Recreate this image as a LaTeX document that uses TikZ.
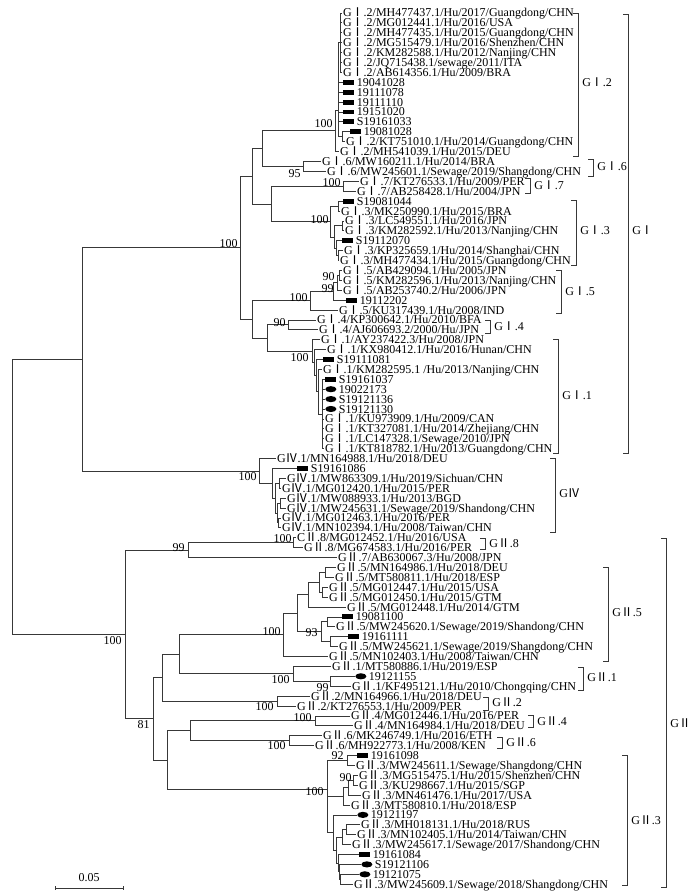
\documentclass[tikz,border=0pt]{standalone}
\usepackage{fontspec}
\setmainfont{Liberation Serif}
\newfontfamily\cjk{Noto Sans CJK SC}
\usetikzlibrary{shapes.geometric}
\newcommand\rnI{{\cjk Ⅰ}}
\newcommand\rnII{{\cjk Ⅱ}}
\newcommand\rnIV{{\cjk Ⅳ}}
\tikzset{
 tree/.style={draw=black!78, line width=0.6pt},
 lab/.style={anchor=west, inner xsep=0.6pt, inner ysep=0pt, text height=6pt, text depth=0pt, font=\fontsize{9}{9}\selectfont},
 bs/.style={anchor=east, inner sep=0pt, text height=6pt, text depth=0pt, font=\fontsize{9}{9}\selectfont},
 clab/.style={anchor=west, inner sep=0pt, text height=6pt, text depth=0pt, font=\fontsize{9}{9}\selectfont},
 rmark/.style={rectangle, fill=black, minimum width=8.4pt, minimum height=3.7pt, inner sep=0pt, anchor=west},
 emark/.style={ellipse, fill=black, minimum width=8.4pt, minimum height=4.6pt, inner sep=0pt, anchor=west},
}
\newcommand\leafT[4]{\coordinate (#1) at (#2,#3); \node[lab] (#1t) at (#1) {#4};}
\newcommand\leafR[4]{\coordinate (#1) at (#2,#3); \node[rmark] (#1m) at (#1) {}; \node[lab] (#1t) at ([xshift=0.8pt]#1m.east) {#4};}
\newcommand\leafE[4]{\coordinate (#1) at (#2,#3); \node[emark] (#1m) at (#1) {}; \node[lab] (#1t) at ([xshift=0.8pt]#1m.east) {#4};}
\newcommand\inode[3]{\coordinate (#1) at (#2,#3);}
\newcommand\kids[2]{\foreach \c in {#2} {\draw[tree] (#1) |- (\c);}}
\newcommand\clade[6]{%
 \coordinate (#1a) at (#2-5,#3); \coordinate (#1c) at (#2,#3);
 \coordinate (#1d) at (#2,#4); \coordinate (#1b) at (#2-5,#4);
 \draw[tree] (#1a) -- (#1c) -- (#1d) -- (#1b);
 \node[clab] (#1l) at (#2+4,#5) {#6};}
\begin{document}
\begin{tikzpicture}[x=0.75pt,y=-0.75pt]
\useasboundingbox (0,0) rectangle (695,895);
% leaves
\leafT{L1}{342}{13.0}{G\rnI.2/MH477437.1/Hu/2017/Guangdong/CHN}
\leafT{L2}{342}{22.9}{G\rnI.2/MG012441.1/Hu/2016/USA}
\leafT{L3}{342}{32.8}{G\rnI.2/MH477435.1/Hu/2015/Guangdong/CHN}
\leafT{L4}{342}{42.7}{G\rnI.2/MG515479.1/Hu/2016/Shenzhen/CHN}
\leafT{L5}{342}{52.6}{G\rnI.2/KM282588.1/Hu/2012/Nanjing/CHN}
\leafT{L6}{342}{62.5}{G\rnI.2/JQ715438.1/sewage/2011/ITA}
\leafT{L7}{342}{72.4}{G\rnI.2/AB614356.1/Hu/2009/BRA}
\leafR{L8}{343}{82.3}{19041028}
\leafR{L9}{343}{92.2}{19111078}
\leafR{L10}{343}{102.1}{19111110}
\leafR{L11}{343}{112.0}{19151020}
\leafR{L12}{343}{121.9}{S19161033}
\leafR{L13}{350}{131.8}{19081028}
\leafT{L14}{345}{141.7}{G\rnI.2/KT751010.1/Hu/2014/Guangdong/CHN}
\leafT{L15}{339}{151.6}{G\rnI.2/MH541039.1/Hu/2015/DEU}
\leafT{L16}{321}{161.5}{G\rnI.6/MW160211.1/Hu/2014/BRA}
\leafT{L17}{326}{171.4}{G\rnI.6/MW245601.1/Sewage/2019/Shangdong/CHN}
\leafT{L18}{359}{181.3}{G\rnI.7/KT276533.1/Hu/2009/PER}
\leafT{L19}{356}{191.2}{G\rnI.7/AB258428.1/Hu/2004/JPN}
\leafR{L20}{343}{201.1}{S19081044}
\leafT{L21}{340}{211.0}{G\rnI.3/MK250990.1/Hu/2015/BRA}
\leafT{L22}{344}{220.9}{G\rnI.3/LC549551.1/Hu/2016/JPN}
\leafT{L23}{344}{230.8}{G\rnI.3/KM282592.1/Hu/2013/Nanjing/CHN}
\leafR{L24}{342}{240.7}{S19112070}
\leafT{L25}{343}{250.6}{G\rnI.3/KP325659.1/Hu/2014/Shanghai/CHN}
\leafT{L26}{339}{260.5}{G\rnI.3/MH477434.1/Hu/2015/Guangdong/CHN}
\leafT{L27}{342}{270.4}{G\rnI.5/AB429094.1/Hu/2005/JPN}
\leafT{L28}{342}{280.3}{G\rnI.5/KM282596.1/Hu/2013/Nanjing/CHN}
\leafT{L29}{342}{290.2}{G\rnI.5/AB253740.2/Hu/2006/JPN}
\leafR{L30}{346}{300.1}{19112202}
\leafT{L31}{338}{310.0}{G\rnI.5/KU317439.1/Hu/2008/IND}
\leafT{L32}{316}{319.9}{G\rnI.4/KP300642.1/Hu/2010/BFA}
\leafT{L33}{318}{329.8}{G\rnI.4/AJ606693.2/2000/Hu/JPN}
\leafT{L34}{320}{339.7}{G\rnI.1/AY237422.3/Hu/2008/JPN}
\leafT{L35}{326}{349.6}{G\rnI.1/KX980412.1/Hu/2016/Hunan/CHN}
\leafR{L36}{323}{359.5}{S19111081}
\leafT{L37}{322}{369.4}{G\rnI.1/KM282595.1 /Hu/2013/Nanjing/CHN}
\leafR{L38}{325}{379.3}{S19161037}
\leafE{L39}{325}{389.2}{19022173}
\leafE{L40}{325}{399.1}{S19121136}
\leafE{L41}{325}{409.0}{S19121130}
\leafT{L42}{324}{418.9}{G\rnI.1/KU973909.1/Hu/2009/CAN}
\leafT{L43}{324}{428.8}{G\rnI.1/KT327081.1/Hu/2014/Zhejiang/CHN}
\leafT{L44}{324}{438.7}{G\rnI.1/LC147328.1/Sewage/2010/JPN}
\leafT{L45}{324}{448.6}{G\rnI.1/KT818782.1/Hu/2013/Guangdong/CHN}
\leafT{L46}{276}{458.5}{G\rnIV.1/MN164988.1/Hu/2018/DEU}
\leafR{L47}{297}{468.4}{S19161086}
\leafT{L48}{286}{478.3}{G\rnIV.1/MW863309.1/Hu/2019/Sichuan/CHN}
\leafT{L49}{281}{488.2}{G\rnIV.1/MG012420.1/Hu/2015/PER}
\leafT{L50}{286}{498.1}{G\rnIV.1/MW088933.1/Hu/2013/BGD}
\leafT{L51}{286}{508.0}{G\rnIV.1/MW245631.1/Sewage/2019/Shandong/CHN}
\leafT{L52}{281}{517.9}{G\rnIV.1/MG012463.1/Hu/2016/PER}
\leafT{L53}{281}{527.8}{G\rnIV.1/MN102394.1/Hu/2008/Taiwan/CHN}
\leafT{L54}{296}{537.7}{C\rnII.8/MG012452.1/Hu/2016/USA}
\leafT{L55}{303}{547.6}{G\rnII.8/MG674583.1/Hu/2016/PER}
\leafT{L56}{337}{557.5}{G\rnII.7/AB630067.3/Hu/2008/JPN}
\leafT{L57}{336}{567.4}{G\rnII.5/MN164986.1/Hu/2018/DEU}
\leafT{L58}{334}{577.3}{G\rnII.5/MT580811.1/Hu/2018/ESP}
\leafT{L59}{328}{587.2}{G\rnII.5/MG012447.1/Hu/2015/USA}
\leafT{L60}{328}{597.1}{G\rnII.5/MG012450.1/Hu/2015/GTM}
\leafT{L61}{346}{607.0}{G\rnII.5/MG012448.1/Hu/2014/GTM}
\leafR{L62}{342}{616.9}{19081100}
\leafT{L63}{335}{626.8}{G\rnII.5/MW245620.1/Sewage/2019/Shandong/CHN}
\leafR{L64}{348}{636.7}{19161111}
\leafT{L65}{338}{646.6}{G\rnII.5/MW245621.1/Sewage/2019/Shangdong/CHN}
\leafT{L66}{328}{656.5}{G\rnII.5/MN102403.1/Hu/2008/Taiwan/CHN}
\leafT{L67}{331}{666.4}{G\rnII.1/MT580886.1/Hu/2019/ESP}
\leafE{L68}{355}{676.3}{19121155}
\leafT{L69}{351}{686.2}{G\rnII.1/KF495121.1/Hu/2010/Chongqing/CHN}
\leafT{L70}{310}{696.1}{G\rnII.2/MN164966.1/Hu/2018/DEU}
\leafT{L71}{296}{706.0}{G\rnII.2/KT276553.1/Hu/2009/PER}
\leafT{L72}{350}{715.9}{G\rnII.4/MG012446.1/Hu/2016/PER}
\leafT{L73}{353}{725.8}{G\rnII.4/MN164984.1/Hu/2018/DEU}
\leafT{L74}{322}{735.7}{G\rnII.6/MK246749.1/Hu/2016/ETH}
\leafT{L75}{314}{745.6}{G\rnII.6/MH922773.1/Hu/2008/KEN}
\leafR{L76}{357}{755.5}{19161098}
\leafT{L77}{355}{765.4}{G\rnII.3/MW245611.1/Sewage/Shangdong/CHN}
\leafT{L78}{358}{775.3}{G\rnII.3/MG515475.1/Hu/2015/Shenzhen/CHN}
\leafT{L79}{358}{785.2}{G\rnII.3/KU298667.1/Hu/2015/SGP}
\leafT{L80}{361}{795.1}{G\rnII.3/MN461476.1/Hu/2017/USA}
\leafT{L81}{350}{805.0}{G\rnII.3/MT580810.1/Hu/2018/ESP}
\leafE{L82}{357}{814.9}{19121197}
\leafT{L83}{360}{824.8}{G\rnII.3/MH018131.1/Hu/2018/RUS}
\leafT{L84}{356}{834.7}{G\rnII.3/MN102405.1/Hu/2014/Taiwan/CHN}
\leafT{L85}{351}{844.6}{G\rnII.3/MW245617.1/Sewage/2017/Shandong/CHN}
\leafR{L86}{359}{854.5}{19161084}
\leafE{L87}{361}{864.4}{S19121106}
\leafE{L88}{359}{874.3}{19121075}
\leafT{L89}{353}{884.2}{G\rnII.3/MW245609.1/Sewage/2018/Shangdong/CHN}
% internal nodes
\inode{T1}{340}{42.7}\inode{T3}{342}{136.75}\inode{T2}{338}{110}\inode{T0}{335}{130.8}
\inode{G6}{303}{166.45}\inode{A26}{262}{148.6}\inode{G7}{343}{186.25}
\inode{U1}{338}{206.05}\inode{U2}{342}{225.85}\inode{U4}{338}{255.55}\inode{U5}{336}{248.1}
\inode{U6}{334}{236.98}\inode{N3}{330}{221.5}\inode{A73}{271}{203.9}\inode{A2673}{252}{176.25}
\inode{F90}{339}{275.35}\inode{F99}{337}{282.8}\inode{F2}{333}{291.45}\inode{N5}{310}{300.7}
\inode{G4}{288}{324.85}\inode{E}{322}{414}\inode{D}{318}{391.7}\inode{C}{316}{375.6}
\inode{B}{314}{362.6}\inode{A1}{312}{351.15}\inode{A41}{267}{338}\inode{GIlow}{252}{319.35}
\inode{GI}{240}{247.8}
\inode{G3}{279}{483.25}\inode{G5}{280}{503.05}\inode{G6n}{278}{522.85}\inode{G4n}{277}{512.95}
\inode{G2}{275}{498.1}\inode{G1}{272}{483.25}\inode{G0}{259}{470.9}\inode{TOP}{82}{359.35}
\inode{G8}{293}{542.65}\inode{N99}{188}{550.1}
\inode{P2}{325}{572.35}\inode{P3}{322}{592.15}\inode{P1}{319}{582.25}\inode{P0}{308}{594.6}
\inode{R1}{327}{621.85}\inode{R2}{330}{641.65}\inode{N93}{321}{631.75}\inode{Q}{297}{613.2}
\inode{N5b}{283}{634.85}\inode{N99b}{330}{681.25}\inode{G1b}{293}{673.8}\inode{X1}{179}{654.3}
\inode{G2b}{277}{701.05}\inode{X2}{162}{677.7}\inode{G4b}{315}{720.85}\inode{G6b}{289}{740.65}
\inode{X3}{190}{730.75}
\inode{S1}{347}{760.45}\inode{S2}{353}{780.25}\inode{S3}{348}{787.7}\inode{S4}{343}{796.35}
\inode{S8}{346}{829.75}\inode{S9}{342}{837.2}\inode{S12}{340}{879.25}\inode{S11}{339}{871.8}
\inode{S10}{338}{863.15}\inode{S7}{336}{850.2}\inode{S6}{333}{832.55}\inode{S100}{327}{789}
\inode{X4}{167}{759.9}\inode{X5}{153}{718.8}\inode{GII}{125}{634.45}\inode{ROOT}{12}{496.9}
% branches
\kids{T1}{L1,L2,L3,L4,L5,L6,L7}
\kids{T3}{L13,L14}
\kids{T2}{T1,L8,L9,L10,L11,L12,T3}
\kids{T0}{T2,L15}
\kids{G6}{L16,L17}
\kids{A26}{T0,G6}
\kids{G7}{L18,L19}
\kids{U1}{L20,L21}
\kids{U2}{L22,L23}
\kids{U4}{L25,L26}
\kids{U5}{L24,U4}
\kids{U6}{U2,U5}
\kids{N3}{U1,U6}
\kids{A73}{G7,N3}
\kids{A2673}{A26,A73}
\kids{F90}{L27,L28}
\kids{F99}{F90,L29}
\kids{F2}{F99,L30}
\kids{N5}{F2,L31}
\kids{G4}{L32,L33}
\kids{E}{L38,L39,L40,L41,L42,L43,L44,L45}
\kids{D}{L37,E}
\kids{C}{L36,D}
\kids{B}{L35,C}
\kids{A1}{L34,B}
\kids{A41}{G4,A1}
\kids{GIlow}{N5,A41}
\kids{GI}{A2673,GIlow}
\kids{G3}{L48,L49}
\kids{G5}{L50,L51}
\kids{G6n}{L52,L53}
\kids{G4n}{G5,G6n}
\kids{G2}{G3,G4n}
\kids{G1}{L47,G2}
\kids{G0}{L46,G1}
\kids{TOP}{GI,G0}
\kids{G8}{L54,L55}
\kids{N99}{G8,L56}
\kids{P2}{L57,L58}
\kids{P3}{L59,L60}
\kids{P1}{P2,P3}
\kids{P0}{P1,L61}
\kids{R1}{L62,L63}
\kids{R2}{L64,L65}
\kids{N93}{R1,R2}
\kids{Q}{P0,N93}
\kids{N5b}{Q,L66}
\kids{N99b}{L68,L69}
\kids{G1b}{L67,N99b}
\kids{X1}{N5b,G1b}
\kids{G2b}{L70,L71}
\kids{X2}{X1,G2b}
\kids{G4b}{L72,L73}
\kids{G6b}{L74,L75}
\kids{X3}{G4b,G6b}
\kids{S1}{L76,L77}
\kids{S2}{L78,L79}
\kids{S3}{S2,L80}
\kids{S4}{S3,L81}
\kids{S8}{L83,L84}
\kids{S9}{S8,L85}
\kids{S12}{L88,L89}
\kids{S11}{L87,S12}
\kids{S10}{L86,S11}
\kids{S7}{S9,S10}
\kids{S6}{L82,S7}
\kids{S100}{S1,S4,S6}
\kids{X4}{X3,S100}
\kids{X5}{X2,X4}
\kids{GII}{N99,X5}
\kids{ROOT}{TOP,GII}
% bootstrap values
\node[bs] (bs1) at (333,124) {100};
\node[bs] (bs2) at (301,173) {95};
\node[bs] (bs3) at (341,182) {100};
\node[bs] (bs4) at (329,219) {100};
\node[bs] (bs5) at (238,243) {100};
\node[bs] (bs6) at (308,297) {100};
\node[bs] (bs7) at (335,276) {90};
\node[bs] (bs8) at (334,288) {99};
\node[bs] (bs9) at (286,322) {90};
\node[bs] (bs10) at (309,357) {100};
\node[bs] (bs11) at (257,476) {100};
\node[bs] (bs12) at (292,538) {100};
\node[bs] (bs13) at (185,547) {99};
\node[bs] (bs14) at (122,640) {100};
\node[bs] (bs15) at (150,724) {81};
\node[bs] (bs16) at (281,631) {100};
\node[bs] (bs17) at (318,632) {93};
\node[bs] (bs18) at (290,679) {100};
\node[bs] (bs19) at (329,687) {99};
\node[bs] (bs20) at (274,706) {100};
\node[bs] (bs21) at (312,717) {100};
\node[bs] (bs22) at (286,745) {100};
\node[bs] (bs23) at (344,755) {92};
\node[bs] (bs24) at (352,777) {90};
\node[bs] (bs25) at (324,791) {100};
% clade brackets
\clade{cI2}{578}{13}{156}{83}{G\rnI.2}
\clade{cI6}{593}{159}{176}{167}{G\rnI.6}
\clade{cI7}{530}{178}{193}{186}{G\rnI.7}
\clade{cI3}{576}{200}{265}{230}{G\rnI.3}
\clade{cI5}{561}{270}{313}{291}{G\rnI.5}
\clade{cI4}{490}{320}{333}{326}{G\rnI.4}
\clade{cI1}{558}{339}{453}{395}{G\rnI.1}
\clade{cI}{628}{14}{453}{230}{G\rnI}
\clade{cIV}{555}{458}{532}{493}{G\rnIV}
\clade{cII8}{485}{538}{549}{543}{G\rnII.8}
\clade{cII5}{608}{567}{661}{612}{G\rnII.5}
\clade{cII1}{583}{667}{690}{677}{G\rnII.1}
\clade{cII2}{488}{697}{710}{702}{G\rnII.2}
\clade{cII4}{533}{715}{727}{721}{G\rnII.4}
\clade{cII6}{502}{737}{748}{742}{G\rnII.6}
\clade{cII3}{627}{755}{885}{820}{G\rnII.3}
\clade{cII}{666}{538}{887}{723}{G\rnII}
% scale bar
\coordinate (sb1) at (55,888); \coordinate (sb2) at (123,888);
\draw[tree] (sb1) -- (sb2);
\draw[tree] ([yshift=1.5pt]sb1) -- ([yshift=-1.5pt]sb1);
\draw[tree] ([yshift=1.5pt]sb2) -- ([yshift=-1.5pt]sb2);
\node[clab, anchor=center] (sbl) at (89,877) {0.05};
\end{tikzpicture}
\end{document}
